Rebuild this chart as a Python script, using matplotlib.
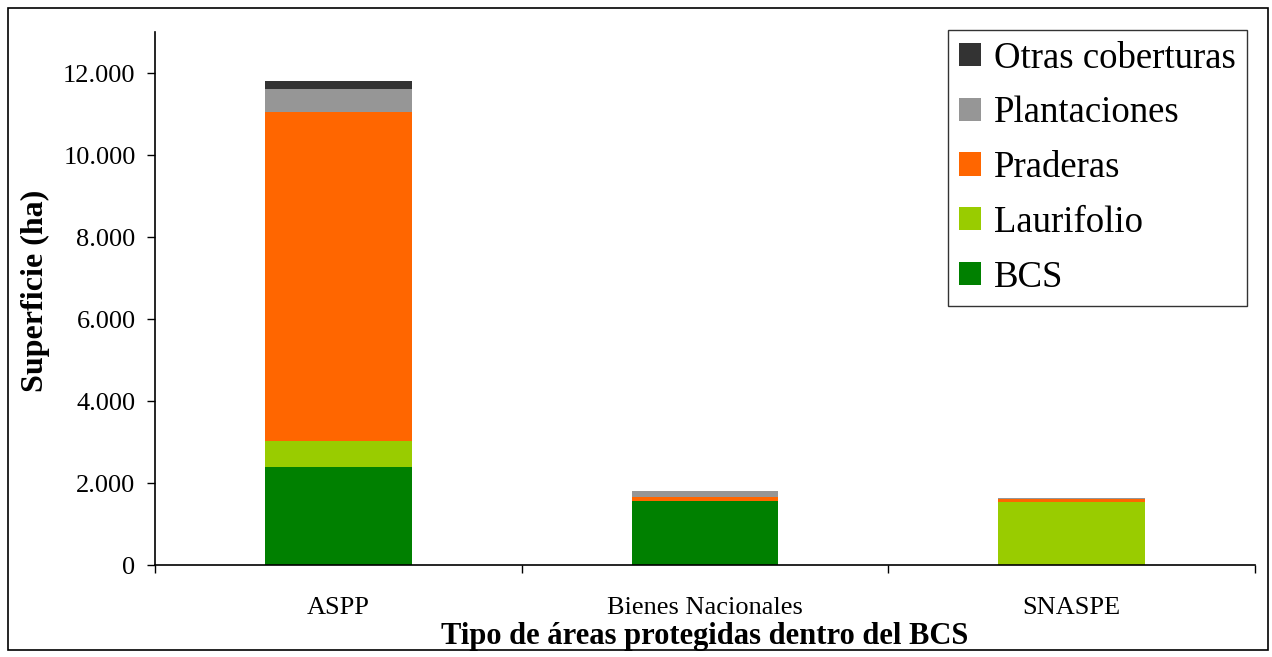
import matplotlib.pyplot as plt
import numpy as np
from matplotlib.ticker import FuncFormatter
from matplotlib.patches import Rectangle

plt.rcParams['font.family'] = ['Liberation Serif', 'DejaVu Serif']

categorias = ["ASPP", "Bienes Nacionales", "SNASPE"]
series = ["BCS", "Laurifolio", "Praderas", "Plantaciones", "Otras coberturas"]
bcs = [2390, 1560, 0]
laurifolio = [635, 0, 1540]
praderas = [8030, 100, 60]
plantaciones = [555, 145, 25]
otras = [195, 0, 0]
colores = ["#008000", "#99CC00", "#FF6600", "#969696", "#333333"]

valores = [bcs, laurifolio, praderas, plantaciones, otras]

fig = plt.figure(figsize=(12.72, 6.57), dpi=100)
ax = fig.add_axes([155 / 1272, 92 / 657, 1100 / 1272, 533 / 657])

x = np.arange(len(categorias))
base = np.zeros(len(categorias))
for nombre, vals, col in zip(series, valores, colores):
    ax.bar(x, vals, width=0.4, bottom=base, color=col, label=nombre)
    base += np.array(vals)

ax.set_xlim(-0.5, 2.5)
ax.set_ylim(0, 13000)
ax.set_yticks(np.arange(0, 13000, 2000))
ax.yaxis.set_major_formatter(FuncFormatter(lambda v, p: f"{int(v):,}".replace(",", ".")))
ax.set_xticks(x)
ax.set_xticklabels(categorias, fontsize=19)
ax.set_xticks([-0.5, 0.5, 1.5, 2.5], minor=True)
ax.tick_params(axis='x', which='major', length=0, pad=23)
ax.tick_params(axis='x', which='minor', length=6, direction='out', width=1)
ax.tick_params(axis='y', labelsize=19, length=6, width=1, pad=8)

for s in ["top", "right"]:
    ax.spines[s].set_visible(False)
ax.spines["left"].set_linewidth(1.2)
ax.spines["bottom"].set_linewidth(1.2)

ax.set_ylabel("Superficie (ha)", fontsize=23, fontweight="bold")
ax.yaxis.set_label_coords(-0.095, 0.515)
ax.set_xlabel("Tipo de áreas protegidas dentro del BCS", fontsize=22,
              fontweight="bold", labelpad=2)

h, l = ax.get_legend_handles_labels()
leg = ax.legend(h[::-1], l[::-1], loc="upper right", bbox_to_anchor=(1247 / 1272, 627 / 657),
                bbox_transform=fig.transFigure, borderaxespad=0, fontsize=26.5,
                frameon=True, fancybox=False, edgecolor="black",
                handlelength=0.6, handleheight=0.6, handletextpad=0.35,
                labelspacing=0.55, borderpad=0.3)
leg.get_frame().set_linewidth(1)

# marco exterior del gráfico
fig.patches.append(Rectangle((8 / 1272, 7 / 657), 1260 / 1272, 642 / 657,
                             transform=fig.transFigure, fill=False,
                             edgecolor="black", linewidth=1.2))

fig.savefig("out.png", dpi=100)
